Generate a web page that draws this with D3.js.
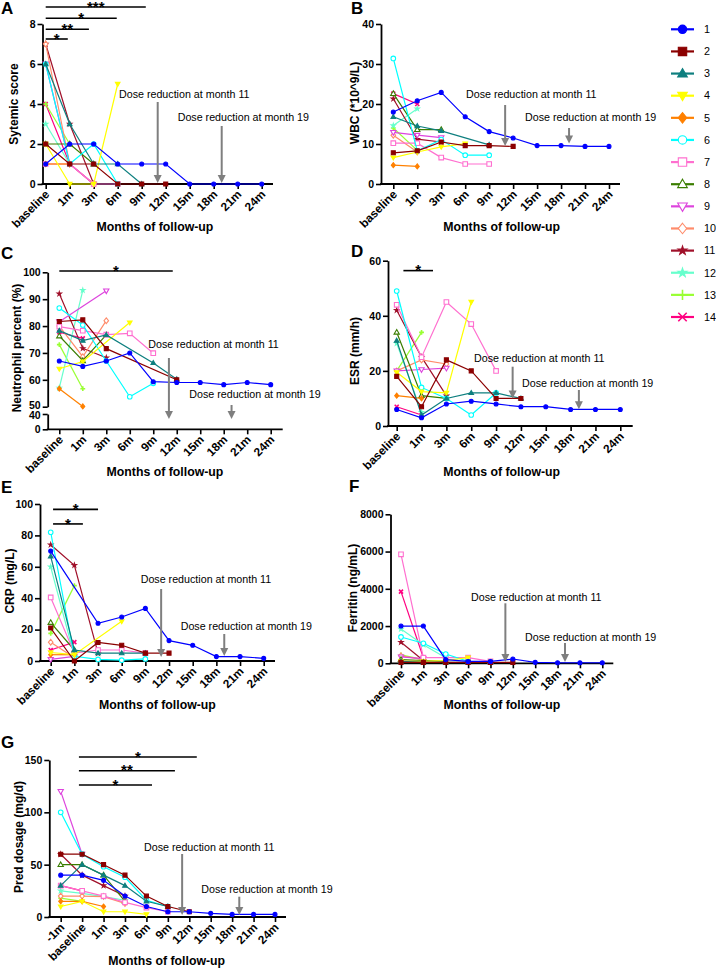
<!DOCTYPE html>
<html><head><meta charset="utf-8">
<script src="https://cdn.jsdelivr.net/npm/d3@7"></script>
<style>body{margin:0;background:#fff;} text{font-family:"Liberation Sans",Arial,sans-serif;}</style>
</head><body>
<script>
// ---------- DATA ----------
const months = ["baseline","1m","3m","6m","9m","12m","15m","18m","21m","24m"];
const monthNums = [0,1,3,6,9,12,15,18,21,24];
const monthsG = ["-1m","baseline","1m","3m","6m","9m","12m","15m","18m","21m","24m"];
const monthNumsG = [-1,0,1,3,6,9,12,15,18,21,24];
const seriesNames = ["1","2","3","4","5","6","7","8","9","10","11","12","13","14"];
const seriesColors = ["#0000FF","#8B0000","#0E7F7F","#FFFF00","#FF8000","#00FFFF","#FF6FCF","#3A7D00","#DD44DD","#FF8C6B","#A0102A","#66FFCC","#99FF33","#FF0080"];
const seriesShapes = ["circle","square","triangle","triDown","diamond","circle","square","triangle","triDown","diamond","star","star","plus","x"];
const seriesFilled = [1,1,1,1,1,0,0,0,0,0,1,1,1,1];

const systemicScore = [
  [1,2,2,1,1,1,0,0,0,0],[2,1,1,0,0,0],[6,3,1,1,0],[2,0,0,5],[1,1],[6,1,2,0],[1,1,0,0],
  [2,2,1],[6,1,0],[7,1,0],[7,3,0],[3,1],[4,2],[4,1,0]];
const wbc = [
  [18,20.8,22.9,16.8,13.1,11.5,9.6,9.6,9.4,9.4],[7.8,8.3,10.5,9.6,9.6,9.4],[16.8,14.5,13.3,null,9.8],
  [6.6,8,9.3,10.1],[4.7,4.4],[31.4,8.3,11.1,7.2,7.2],[10.2,10.2,6.6,5,5],[22.6,13.6,13.6],
  [12.9,12.2,11.6],[12.2,8],[21.3,11.2,10.5],[14.6,18.8],[14,8.4],[22.6,20]];
const neutrophil = [
  [67,65,67,70,59.3,59,59,58.2,59,58.2],[81.7,82.3,71.6,null,null,60],[78.3,74.6,76.7,null,66.3,60.2],
  [64.1,66.8,null,81.3],[56.7,50.1],[86.7,80.4,67,53.7,58.7],[79.8,78.3,76.8,77.3,69.9],[76.3,67.1,76.7],
  [81.6,null,93.1],[80,68.6,82],[92,71.7,68.2],[57,93.3],[73.1,56.7],[77.7,75.4]];
const esr = [
  [6,3,8,9,8,7,7,6,6,6],[18,7,24,20,10,10],[31,4,10,12,12,10],[19.5,12.5,12,45],[11,10],
  [49,14,10,4,12],[44,25,45,37,20],[34,11,10],[20,20.5,21],[20,24,22.5],[42,25,11],[30,5],[20,34],[7,4]];
const crp = [
  [70,null,24,28,33.5,13,10,2.8,2.8,1.7],[21,0,11.8,10,5,5],[66.7,7,5,5,5],[5.4,4,null,25.3],[4,4],
  [82,3,1,0.5,1.3],[40.5,5,7,7,5],[24.5,7],[1,3],[12,2],[74,61,5],[60,3],[17.6,48],[7,12]];
const ferritin = [
  [2000,2000,200,100,100,230,50,30,30,30],[50,50,50,50,50,50],[100,50,50,50,50],[100,100,150,300],[100,80],
  [1414,1074,500,100,80],[5850,300,300,300,100],[200,150,100],[350,250],[400,200],[1130,150],
  [1840,1000,300],[450,200],[3850,300]];
const pred = [
  [40,40,35,20,10,5,5,3.5,2.5,2.5,2.5],[60,60,50,40,20,10,5],[30,50,40,30,15,10],[10,15,5,5,2.5],[15,15,10],
  [100,60,48,38,16,10],[30,25,20,14,9,5],[50,50,40,15],[120,60],[20,20,19.5,13],[60,40,30,20],
  [25,22.5,19.5,16],[18,15],[30,25]];

// significance bars: [fromIndex, toIndex, level, label]
const sigA = [[0,0.92,7.25,"*"],[0,1.8,7.735,"**"],[0,2.96,8.285,"*"],[0,4.17,8.85,"***"]];
const sigC = [[0,4.83,100.5,"*"]];
const sigD = [[0.27,1.46,56.4,"*"]];
const sigE = [[0.1,2,96.6,"*"],[0.1,1.36,87.3,"*"]];
const sigG = [[0.85,6.35,152.9,"*"],[0.85,5.33,139.8,"**"],[0.85,4.26,126.1,"*"]];
const doseMonths = [11,19];
const doseTexts = ["Dose reduction at month 11","Dose reduction at month 19"];

// ---------- DRAWING ----------
const svg = d3.select("body").append("svg").attr("width",716).attr("height",968);

function markerPath(shape, s){
  switch(shape){
    case "circle": return `M${s},0A${s},${s} 0 1,1 ${-s},0A${s},${s} 0 1,1 ${s},0Z`;
    case "square": return `M${-s},${-s}H${s}V${s}H${-s}Z`;
    case "triangle": return `M0,${-s*1.2}L${s*1.15},${s*0.8}L${-s*1.15},${s*0.8}Z`;
    case "triDown": return `M0,${s*1.2}L${s*1.15},${-s*0.8}L${-s*1.15},${-s*0.8}Z`;
    case "diamond": return `M0,${-s*1.25}L${s},0L0,${s*1.25}L${-s},0Z`;
    case "star": return d3.symbol(d3.symbolStar, s*s*1.4)();
    case "plus": return `M${-s*1.2},0H${s*1.2}M0,${-s*1.2}V${s*1.2}`;
    case "x": return `M${-s},${-s}L${s},${s}M${-s},${s}L${s},${-s}`;
  }
}
function drawMarker(g, k, cx, cy, s){
  const shape = seriesShapes[k], c = seriesColors[k];
  const lineOnly = shape==="plus"||shape==="x";
  g.append("path").attr("d", markerPath(shape, s)).attr("transform",`translate(${cx},${cy})`)
    .attr("fill", lineOnly ? "none" : (seriesFilled[k] ? c : "#fff"))
    .attr("stroke", c).attr("stroke-width", lineOnly ? 1.6 : 1.1);
}

function drawPanel(p, cats, nums, data, sig){
  const g = svg.append("g");
  const xP = d3.scalePoint(cats, p.xr);
  const xL = d3.scaleLinear([0, cats.length-1], p.xr);
  const mIdx = d3.scaleLinear(nums, d3.range(nums.length));
  const y = d3.scaleLinear(p.domain, p.yr);
  const axisY = p.yr[0];

  // y axis
  const segs = p.segments || [[p.domain, p.yr, p.ticks, 0]];
  segs.forEach(([dom, rng, tks, shift]) => {
    const ys = d3.scaleLinear(dom, rng);
    const ax = g.append("g").attr("transform",`translate(${p.axisX},0)`)
      .call(d3.axisLeft(ys).tickValues(tks).tickSize(5).tickSizeOuter(0).tickPadding(2).tickFormat(d3.format("d")));
    ax.select(".domain").attr("stroke","#000").attr("stroke-width",1.8);
    ax.selectAll(".tick line").attr("stroke","#000").attr("stroke-width",1.6);
    ax.selectAll(".tick text").attr("font-size",10.5).attr("font-weight","bold").attr("fill","#000")
      .attr("font-family",'"Liberation Sans",Arial,sans-serif');
    if (shift) ax.selectAll(".tick").filter(d => d===shift[0]).select("text").attr("y", shift[1]);
  });
  // x axis
  g.append("line").attr("x1",p.axisX-0.9).attr("x2",p.xEnd).attr("y1",axisY).attr("y2",axisY)
    .attr("stroke","#000").attr("stroke-width",1.8);
  const xa = g.append("g").attr("transform",`translate(0,${axisY})`)
    .call(d3.axisBottom(xP).tickSize(5).tickSizeOuter(0));
  xa.select(".domain").remove();
  xa.selectAll(".tick line").attr("stroke","#000").attr("stroke-width",1.6);
  xa.selectAll(".tick text").attr("font-size",11.8).attr("font-weight","bold").attr("fill","#000")
    .attr("font-family",'"Liberation Sans",Arial,sans-serif')
    .attr("text-anchor","end").attr("dy",null).attr("y",0)
    .attr("transform","translate(4,11) rotate(-45)");

  // titles
  g.append("text").attr("x",p.letter[0]).attr("y",p.letter[1]).text(p.name)
    .attr("font-size",17).attr("font-weight","bold");
  g.append("text").attr("transform",`translate(${p.ytitle[0]},${p.ytitle[1]}) rotate(-90)`)
    .attr("text-anchor","middle").attr("font-size",12).attr("font-weight","bold").text(p.ylabel);
  g.append("text").attr("x",p.xtitle[0]).attr("y",p.xtitle[1]).attr("text-anchor","middle")
    .attr("font-size",12.3).attr("font-weight","bold").text("Months of follow-up");

  // series (draw 14 -> 1 so series 1 is on top)
  for (let k = data.length-1; k >= 0; k--){
    const pts = data[k].map((v,i)=>({i,v})).filter(d=>d.v!=null);
    g.append("path").datum(pts)
      .attr("d", d3.line().x(d=>xP(cats[d.i])).y(d=>y(d.v)))
      .attr("fill","none").attr("stroke",seriesColors[k]).attr("stroke-width",1.2);
    pts.forEach(d => drawMarker(g, k, xP(cats[d.i]), y(d.v), seriesFilled[k] ? 2.0 : 2.3));
  }

  // significance bars
  sig.forEach(([a,b,lev,lab]) => {
    const yy = y(lev);
    g.append("line").attr("x1",xL(a)).attr("x2",xL(b)).attr("y1",yy).attr("y2",yy)
      .attr("stroke","#000").attr("stroke-width",1.6);
    g.append("text").attr("x",(xL(a)+xL(b))/2).attr("y",yy+4.8).attr("text-anchor","middle")
      .attr("font-size",15).attr("font-weight","bold").text(lab);
  });

  // dose reduction annotations
  doseMonths.forEach((m, j) => {
    const ax = xL(mIdx(m));
    const [tx, ty] = p.texts[j];
    const [y1, y2] = p.arrows[j];
    g.append("text").attr("x",tx).attr("y",ty).attr("font-size",10.7).attr("fill","#000").text(doseTexts[j]);
    g.append("line").attr("x1",ax).attr("x2",ax).attr("y1",y1).attr("y2",y2-6)
      .attr("stroke","#7f7f7f").attr("stroke-width",2);
    g.append("path").attr("d",`M${ax-4},${y2-8}L${ax+4},${y2-8}L${ax},${y2}Z`).attr("fill","#7f7f7f");
  });
}

// ---------- LAYOUT ----------
drawPanel({name:"A", letter:[1,13.5], axisX:42.5, xr:[45.7,261.7], xEnd:273, domain:[0,8], yr:[184,24],
  ticks:[0,2,4,6,8], ylabel:"Sytemic score", ytitle:[18,104], xtitle:[155,231],
  texts:[[119,98],[177.7,121]], arrows:[[102,183],[126,183]]}, months, monthNums, systemicScore, sigA);

drawPanel({name:"B", letter:[351,13.5], axisX:381, xr:[393.3,609], xEnd:620, domain:[0,40], yr:[184,24],
  ticks:[0,10,20,30,40], ylabel:"WBC (*10^9/L)", ytitle:[359,103], xtitle:[501.7,231],
  texts:[[466,98],[525,121]], arrows:[[105,146],[128,143.5]]}, months, monthNums, wbc, []);

drawPanel({name:"C", letter:[1,258.5], axisX:47.7, xr:[59.3,270.7], xEnd:282.7,
  domain:[0,40,50,100], yr:[429.3,414,406.7,272.3],
  segments:[[[50,100],[406.7,272.3],[50,60,70,80,90,100],[50,-1.5]],[[0,40],[429.3,414],[0,40],[40,1.5]]],
  ylabel:"Neutrophil percent (%)", ytitle:[21,348], xtitle:[165,476],
  texts:[[148.3,348],[189.3,397.5]], arrows:[[358,419],[405,419]]}, months, monthNums, neutrophil, sigC);

drawPanel({name:"D", letter:[351,257], axisX:388, xr:[396.7,620.3], xEnd:632.7, domain:[0,60], yr:[426,260.7],
  ticks:[0,20,40,60], ylabel:"ESR (mm/h)", ytitle:[359,351], xtitle:[501.7,476],
  texts:[[474,362],[522,387.3]], arrows:[[366.7,398.5],[390,409.3]]}, months, monthNums, esr, sigD);

drawPanel({name:"E", letter:[1,493], axisX:40, xr:[50.7,263.7], xEnd:275, domain:[0,100], yr:[661,504],
  ticks:[0,20,40,60,80,100], ylabel:"CRP (mg/L)", ytitle:[14,581], xtitle:[157.5,709],
  texts:[[140.7,583.3],[180.7,630]], arrows:[[589,657],[634,656]]}, months, monthNums, crp, sigE);

drawPanel({name:"F", letter:[349,492], axisX:390.5, xr:[401,602.3], xEnd:613.3, domain:[0,8000], yr:[663.3,514.3],
  ticks:[0,2000,4000,6000,8000], ylabel:"Ferritin (ng/mL)", ytitle:[357,588], xtitle:[502,709],
  texts:[[471,600.7],[525,641.3]], arrows:[[603.3,662],[643,662]]}, months, monthNums, ferritin, []);

drawPanel({name:"G", letter:[1,748], axisX:49.3, xr:[60.7,275], xEnd:286, domain:[0,150], yr:[917,760],
  ticks:[0,50,100,150], ylabel:"Pred dosage (mg/d)", ytitle:[23,837], xtitle:[166.7,965],
  texts:[[144,850.7],[201.3,893.3]], arrows:[[854,915],[896.7,915]]}, monthsG, monthNumsG, pred, sigG);

// ---------- LEGEND ----------
const leg = svg.append("g");
const ly = d3.scalePoint(seriesNames, [29.3, 317]);
seriesNames.forEach((n, k) => {
  const yy = ly(n);
  leg.append("line").attr("x1",671).attr("x2",694).attr("y1",yy).attr("y2",yy)
    .attr("stroke",seriesColors[k]).attr("stroke-width",2.2);
  drawMarker(leg, k, 682.5, yy, 4.2);
  leg.append("text").attr("x",704).attr("y",yy).attr("dy","0.35em").attr("font-size",10.8).text(n);
});
</script>
</body></html>
